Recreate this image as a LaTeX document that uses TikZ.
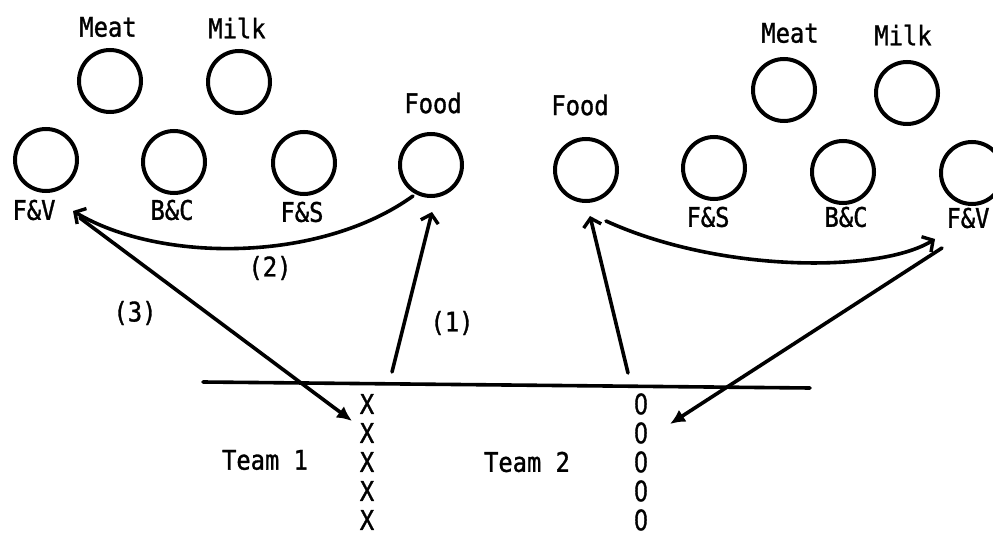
\documentclass[tikz,border=0pt]{standalone}
\usepackage{fontspec}
\newfontfamily\tw[FakeStretch=0.88,FakeBold=1.2]{DejaVu Sans Mono}
\newfontfamily\zr[FakeStretch=0.78,FakeBold=1.2]{Liberation Sans}
\usetikzlibrary{arrows.meta}
\begin{document}
\begin{tikzpicture}[x=1pt,y=-1pt,
  every node/.style={font=\tw\fontsize{27}{30}\selectfont, inner sep=0pt},
  station/.style={circle, draw, line width=4pt, minimum size=62pt},
  line/.style={line width=3.6pt, line cap=round},
  upchev/.style={-{Straight Barb[length=8pt,width=18pt,line width=3.4pt]}},
  filltip/.style={-{Latex[length=15pt,width=14pt]}}]
\useasboundingbox (0,0) rectangle (993,537);

% Team 1 food stations
\node[station] (meatL) at (110,81) {};
\node[station] (milkL) at (239,82) {};
\node[station] (fvL)   at (46,160) {};
\node[station] (bcL)   at (174,162) {};
\node[station] (fsL)   at (304,163) {};
\node[station] (foodL) at (431,165) {};
\node (tmeatL) at (108,27) {Meat};
\node (tmilkL) at (237,28) {Milk};
\node (tfvL)   at (34,210) {F\&V};
\node (tbcL)   at (172,210) {B\&C};
\node (tfsL)   at (302,212) {F\&S};
\node (tfoodL) at (433,103) {Food};

% Team 2 food stations
\node[station] (foodR) at (586,170) {};
\node[station] (fsR)   at (714,168) {};
\node[station] (bcR)   at (843,172) {};
\node[station] (fvR)   at (972,173) {};
\node[station] (meatR) at (784,90) {};
\node[station] (milkR) at (907,93) {};
\node (tfoodR) at (580,105) {Food};
\node (tfsR)   at (708,217) {F\&S};
\node (tbcR)   at (846,217) {B\&C};
\node (tfvR)   at (968,218) {F\&V};
\node (tmeatR) at (790,33) {Meat};
\node (tmilkR) at (903,35) {Milk};

% starting line
\coordinate (lineW) at (203,382);
\coordinate (lineE) at (810,388);
\draw[line] (lineW) -- (lineE);

% players
\foreach \y [count=\i] in {404,433,462,491,520} {
  \node (x\i) at (367,\y) {X};
  \node[font=\zr\fontsize{30}{32}\selectfont] (o\i) at (641,\y) {0};
}
\node (team1) at (265,460) {Team 1};
\node (team2) at (527,462) {Team 2};

% route of team 1
\coordinate (s1) at (392,372);
\coordinate (e1) at (432,212);
\coordinate (s2) at (413,196);
\coordinate (e2) at (73,211);
\coordinate (s3) at (80,218);
\coordinate (e3) at (352,421);
\draw[line, upchev] (s1) -- (e1);
\draw[line, upchev] (s2) .. controls (320,263) and (160,263) .. (e2);
\draw[line, filltip] (s3) -- (e3);
\node (n1) at (452,323) {(1)};
\node (n2) at (270,268) {(2)};
\node (n3) at (135,313) {(3)};

% route of team 2
\coordinate (r1) at (628,373);
\coordinate (f1) at (590,216);
\coordinate (r2) at (606,221);
\coordinate (f2) at (935,239);
\coordinate (r3) at (942,248);
\coordinate (f3) at (670,424);
\draw[line, upchev] (r1) -- (f1);
\draw[line, upchev] (r2) .. controls (720,273) and (880,273) .. (f2);
\draw[line, filltip] (r3) -- (f3);
\end{tikzpicture}
\end{document}
